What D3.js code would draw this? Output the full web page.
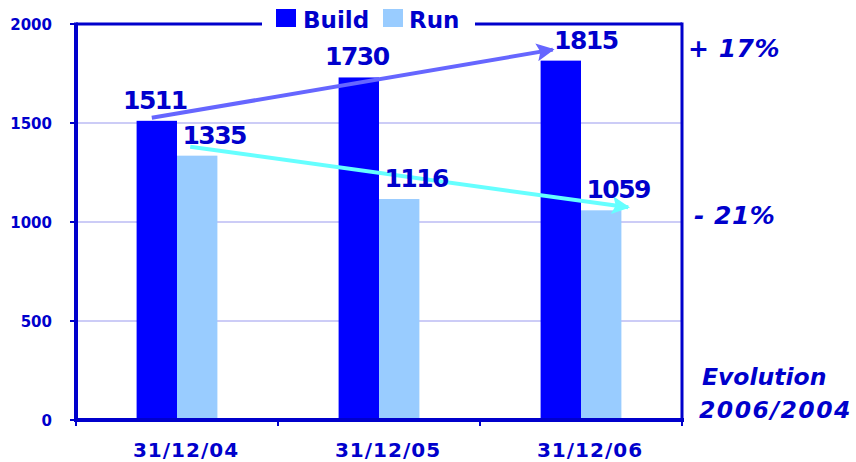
<!DOCTYPE html>
<html>
<head>
<meta charset="utf-8">
<script src="https://cdn.jsdelivr.net/npm/d3@7"></script>
<style>
body { margin: 0; background: #fff; }
text { font-family: "DejaVu Sans", Verdana, sans-serif; font-weight: bold; fill: #0000cc; }
</style>
</head>
<body>
<svg width="856" height="462"></svg>
<script>
var svg = d3.select('svg');

var dates = ['31/12/04', '31/12/05', '31/12/06'];
var build = [1511, 1730, 1815];
var run = [1335, 1116, 1059];
var yTicks = [0, 500, 1000, 1500, 2000];
var notes = ['+ 17%', '- 21%'];

var blue = '#0000cc';
var plotL = 76, plotR = 682, plotT = 24, plotB = 420;

var x = d3.scaleBand().domain(dates).range([plotL, plotR]);
var y = d3.scaleLinear().domain([0, 2000]).range([plotB, plotT]);
var bw = x.bandwidth() * 0.2;

// grid
svg.selectAll('.grid')
    .data(yTicks.slice(1, 4)).enter()
    .append('line')
    .attr('x1', plotL).attr('x2', plotR)
    .attr('y1', function(d){ return y(d) })
    .attr('y2', function(d){ return y(d) })
    .attr('stroke', '#9999ee')
    .attr('stroke-width', 1);

// bars
svg.selectAll('.build')
    .data(build).enter()
    .append('rect')
    .attr('x', function(d, i){ return x(dates[i]) + x.bandwidth() / 2 - bw })
    .attr('y', function(d){ return y(d) })
    .attr('width', bw)
    .attr('height', function(d){ return y(0) - y(d) })
    .attr('fill', '#0000ff');

svg.selectAll('.run')
    .data(run).enter()
    .append('rect')
    .attr('x', function(d, i){ return x(dates[i]) + x.bandwidth() / 2 })
    .attr('y', function(d){ return y(d) })
    .attr('width', bw)
    .attr('height', function(d){ return y(0) - y(d) })
    .attr('fill', '#99ccff');

// frame
var frame = svg.append('g').attr('stroke', blue).attr('fill', 'none');
frame.append('line').attr('x1', plotL).attr('x2', plotR).attr('y1', plotT).attr('y2', plotT).attr('stroke-width', 3);
frame.append('line').attr('x1', plotR).attr('x2', plotR).attr('y1', plotT - 1.5).attr('y2', plotB).attr('stroke-width', 3);
frame.append('line').attr('x1', plotL).attr('x2', plotL).attr('y1', plotT - 1.5).attr('y2', plotB + 2).attr('stroke-width', 4);
frame.append('line').attr('x1', plotL - 2).attr('x2', plotR + 2).attr('y1', plotB).attr('y2', plotB).attr('stroke-width', 4);

// y ticks
svg.selectAll('.ytick')
    .data(yTicks).enter()
    .append('line')
    .attr('x1', plotL - 6).attr('x2', plotL)
    .attr('y1', function(d){ return y(d) })
    .attr('y2', function(d){ return y(d) })
    .attr('stroke', blue).attr('stroke-width', 2);

svg.selectAll('.ylab')
    .data(yTicks).enter()
    .append('text')
    .attr('x', 52)
    .attr('y', function(d){ return y(d) + 5.5 })
    .attr('text-anchor', 'end')
    .style('font-size', '15px')
    .text(function(d){ return d });

// x ticks
var xb = dates.map(function(d){ return x(d) }).concat([plotR]);
svg.selectAll('.xtick')
    .data(xb).enter()
    .append('line')
    .attr('x1', function(d){ return d })
    .attr('x2', function(d){ return d })
    .attr('y1', plotB).attr('y2', plotB + 6)
    .attr('stroke', blue).attr('stroke-width', 2);

svg.selectAll('.xlab')
    .data(dates).enter()
    .append('text')
    .attr('x', function(d){ return x(d) + x.bandwidth() / 2 + 9 })
    .attr('y', 457)
    .attr('text-anchor', 'middle')
    .style('font-size', '20px')
    .style('letter-spacing', '1px')
    .text(function(d){ return d });

// arrows
var defs = svg.append('defs');
function marker(id, col) {
    defs.append('marker')
        .attr('id', id)
        .attr('viewBox', '0 0 10 10')
        .attr('refX', 9).attr('refY', 5)
        .attr('markerWidth', 4.5).attr('markerHeight', 4.5)
        .attr('markerUnits', 'strokeWidth')
        .attr('orient', 'auto')
        .append('path')
        .attr('d', 'M0,0 L10,5 L0,10 L2,5 Z')
        .attr('fill', col);
}
marker('ab', '#6666ff');
marker('ar', '#66ffff');

var c0 = x(dates[0]) + x.bandwidth() / 2;
var c2 = x(dates[2]) + x.bandwidth() / 2;
svg.append('line')
    .attr('x1', c0 - bw / 2 - 5).attr('y1', y(build[0]) - 3)
    .attr('x2', c2 - bw / 2 - 8).attr('y2', y(build[2]) - 11)
    .attr('stroke', '#6666ff').attr('stroke-width', 4)
    .attr('marker-end', 'url(#ab)');
svg.append('line')
    .attr('x1', c0 + bw / 2 - 7).attr('y1', y(run[0]) - 9)
    .attr('x2', c2 + bw / 2 + 27).attr('y2', y(run[2]) - 3)
    .attr('stroke', '#66ffff').attr('stroke-width', 4)
    .attr('marker-end', 'url(#ar)');

// value labels
var buildShift = [-2, -2, 25];
svg.selectAll('.bval')
    .data(build).enter()
    .append('text')
    .attr('x', function(d, i){ return x(dates[i]) + x.bandwidth() / 2 - bw / 2 + buildShift[i] })
    .attr('y', function(d){ return y(d) - 12 })
    .attr('text-anchor', 'middle')
    .style('font-size', '25px')
    .style('letter-spacing', '-1.5px')
    .text(function(d){ return d });

svg.selectAll('.rval')
    .data(run).enter()
    .append('text')
    .attr('x', function(d, i){ return x(dates[i]) + x.bandwidth() / 2 + bw / 2 + 17 })
    .attr('y', function(d){ return y(d) - 12 })
    .attr('text-anchor', 'middle')
    .style('font-size', '25px')
    .style('letter-spacing', '-1.5px')
    .text(function(d){ return d });

// legend
svg.append('rect').attr('x', 262).attr('y', 0).attr('width', 213).attr('height', 34).attr('fill', '#fff');
svg.append('rect').attr('x', 276).attr('y', 9).attr('width', 20).attr('height', 18).attr('fill', '#0000ff');
svg.append('text').attr('x', 303).attr('y', 28).style('font-size', '23px').text('Build');
svg.append('rect').attr('x', 383).attr('y', 9).attr('width', 20).attr('height', 18).attr('fill', '#99ccff');
svg.append('text').attr('x', 409).attr('y', 28).style('font-size', '23px').text('Run');

// notes
svg.selectAll('.note')
    .data(notes).enter()
    .append('text')
    .attr('x', function(d, i){ return i ? 694 : 688 })
    .attr('y', function(d, i){ return i ? 224 : 57 })
    .style('font-size', '25px')
    .style('font-style', 'italic')
    .style('letter-spacing', '0.5px')
    .text(function(d){ return d });

svg.append('text').attr('x', 702).attr('y', 385)
    .style('font-size', '23.5px').style('font-style', 'italic').text('Evolution');
svg.append('text').attr('x', 699).attr('y', 418)
    .style('font-size', '23.5px').style('font-style', 'italic')
    .style('letter-spacing', '1.5px').text('2006/2004');
</script>
</body>
</html>
